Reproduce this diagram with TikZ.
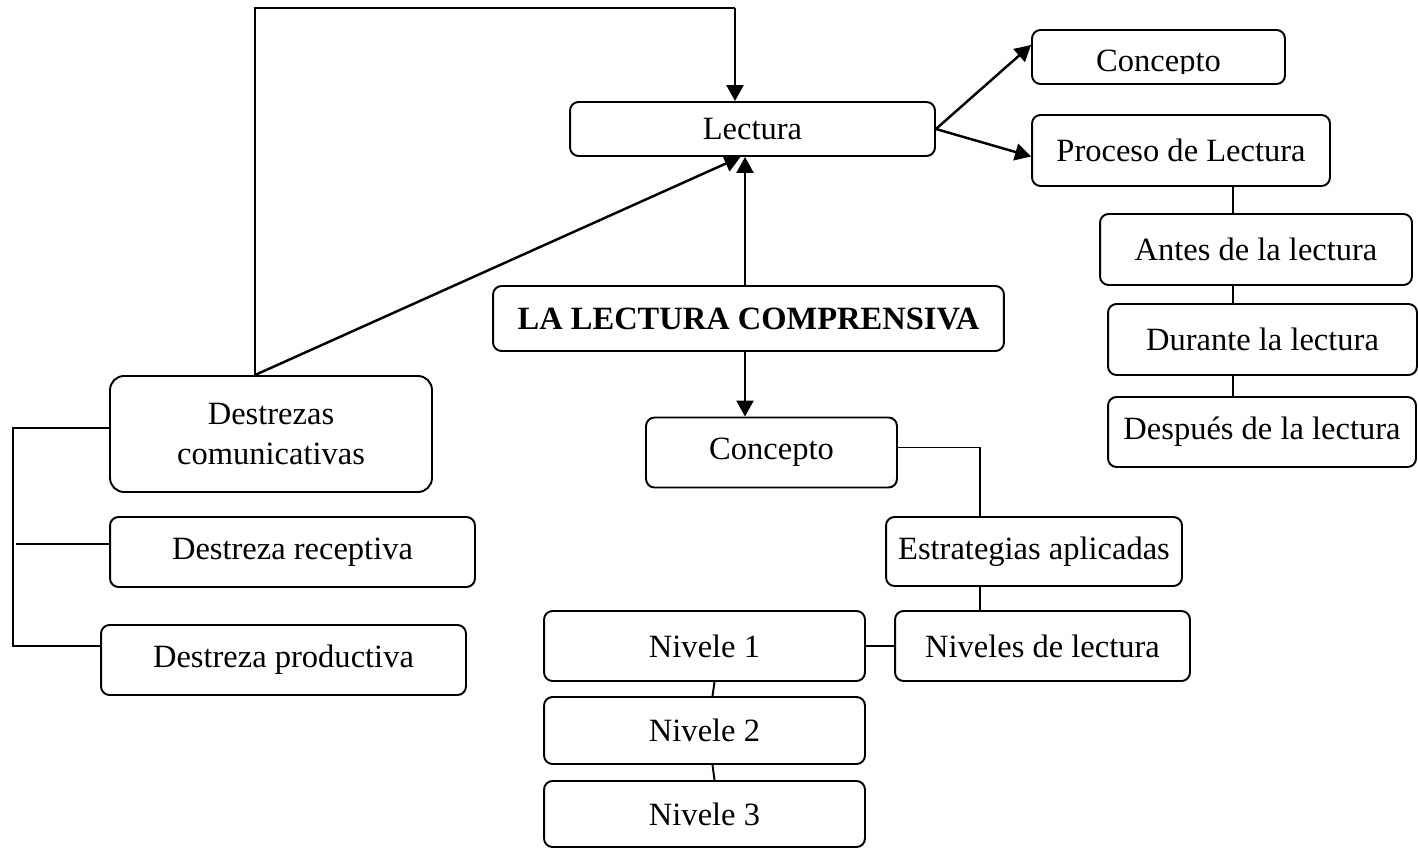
\documentclass[tikz,border=0pt]{standalone}
\usepackage{fontspec}
\setmainfont{Liberation Serif}
\usetikzlibrary{arrows.meta, positioning, calc}

\begin{document}
\begin{tikzpicture}[
    x=0.02cm, y=-0.02cm,
    every node/.style={font=\fontsize{18.5}{23.3}\selectfont},
    box/.style={rectangle, draw, line width=1.1pt, rounded corners=1.7mm,
                minimum height=1.4cm, inner sep=0pt, align=center},
    lnk/.style={line width=1.1pt},
    arr/.style={-{Triangle[length=3.2mm, width=3.4mm]}, line width=1.4pt},
  ]
    \useasboundingbox (0,0) rectangle (1418,848);
    % centre
    \node[box, minimum width=7.3cm, minimum height=1.08cm] (lect) at (752.5,129) {Lectura};
    \node[box, minimum width=10.22cm, minimum height=1.3cm, font=\fontsize{18.5}{22}\selectfont\bfseries]
      (llc) at (748.5,318.5) {LA LECTURA COMPRENSIVA};
    \node[box, minimum width=5.02cm] (conc2) at (771.5,452.5) {Concepto};
    \node[box, minimum width=5.92cm, minimum height=1.38cm] (estr) at (1034,551.5) {Estrategias aplicadas};
    \node[box, minimum width=5.9cm] (niv) at (1042.5,646) {Niveles de lectura};
    \node[box, minimum width=6.42cm] (niv1) at (704.5,646) {Nivele 1};
    \node[box, minimum width=6.42cm, minimum height=1.34cm] (niv2) at (704.5,730.5) {Nivele 2};
    \node[box, minimum width=6.42cm, minimum height=1.32cm] (niv3) at (704.5,814) {Nivele 3};
    % right
    \node[box, minimum width=5.06cm, minimum height=1.08cm] (conc1) at (1158.5,57) {};
    \begin{scope}
      \clip (1034,32) rectangle (1283,74);
      \node[anchor=base] (conc1t) at (1158.5,72) {Concepto};
    \end{scope}
    \node[box, minimum width=5.96cm, minimum height=1.42cm] (proc) at (1181,150.5) {Proceso de Lectura};
    \node[box, minimum width=6.24cm, minimum height=1.42cm] (ante) at (1256,249.5) {Antes de la lectura};
    \node[box, minimum width=6.18cm, minimum height=1.42cm] (dur) at (1262.5,339.5) {Durante la lectura};
    \node[box, minimum width=6.16cm] (desp) at (1262,432) {Después de la lectura};
    % left
    \node[box, minimum width=6.44cm, minimum height=2.32cm, rounded corners=2.8mm]
      (dcom) at (271,434) {Destrezas\\comunicativas};
    \node[box, minimum width=7.3cm] (drec) at (292.5,552) {Destreza receptiva};
    \node[box, minimum width=7.3cm] (dpro) at (283.5,660) {Destreza productiva};

    \coordinate (topL) at (255,8);
    \coordinate (topR) at (735,8);
    \coordinate (brkL) at (13,540);
    \coordinate (recL) at (16,544);

    \draw[lnk] (dcom.north -| topL) -- (topL) -- (topR);
    \draw[arr] (topR) -- (lect.north -| topR);
    \draw[arr] (dcom.north -| topL) -- ($(lect.south)+(-12,0)$);
    \draw[arr] ([xshift=-0.07cm]llc.north) -- ([xshift=-0.07cm]llc.north |- lect.south);
    \draw[arr] ([xshift=-0.07cm]llc.south) -- ([xshift=-0.07cm]llc.south |- conc2.north);
    \draw[arr] (lect.east) -- ($(conc1.west)+(0,-12)$);
    \draw[arr] (lect.east) -- ($(proc.west)+(0,6)$);

    \draw[lnk] ([xshift=-0.46cm]ante.north) -- ([xshift=-0.46cm]ante.north |- proc.south);
    \draw[lnk] ([xshift=-0.59cm]dur.north) -- ([xshift=-0.59cm]dur.north |- ante.south);
    \draw[lnk] ([xshift=-0.59cm]dur.south) -- ([xshift=-0.59cm]dur.south |- desp.north);

    \draw[lnk] ([yshift=0.1cm]conc2.east) -| ([xshift=-1.08cm]estr.north);
    \draw[lnk] ([xshift=-1.08cm]estr.south) -- ([xshift=-1.08cm]estr.south |- niv.north);
    \draw[lnk] (niv1.east) -- (niv.west);
    \draw[lnk] ([xshift=0.2cm]niv1.south) -- ([xshift=0.16cm]niv2.north);
    \draw[lnk] ([xshift=0.16cm]niv2.south) -- ([xshift=0.2cm]niv3.north);

    \draw[lnk] ([yshift=0.12cm]dcom.west) -| (brkL) |- ([yshift=0.28cm]dpro.west);
    \draw[lnk] (recL) -- (drec.west |- recL);
  \end{tikzpicture}
\end{document}
